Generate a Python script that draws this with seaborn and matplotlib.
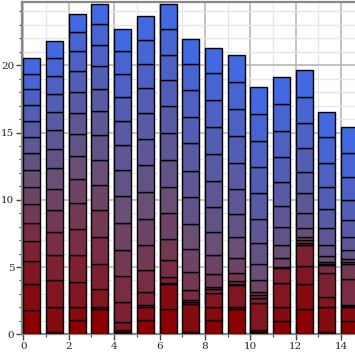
import numpy as np
import matplotlib
matplotlib.use("Agg")
import matplotlib.pyplot as plt
import seaborn as sns
from matplotlib.ticker import MultipleLocator

# posiÃ§Ãµes das barras (borda esquerda)
positions = list(range(15))

# alturas dos segmentos de cada barra, de baixo para cima
bar_00 = [1.84, 1.88, 1.71, 1.49, 1.39, 1.34, 1.31, 1.24, 1.29, 1.19, 1.19, 1.17, 1.17, 1.16, 1.14]
bar_01 = [0.17, 1.86, 1.98, 1.86, 1.73, 1.67, 1.56, 1.51, 1.41, 1.41, 1.38, 1.35, 1.34, 1.34, 1.23]
bar_02 = [1.04, 0.99, 1.86, 1.98, 1.98, 1.88, 1.84, 1.66, 1.66, 1.56, 1.53, 1.56, 1.49, 1.41, 1.39]
bar_03 = [1.86, 0.19, 1.30, 1.86, 2.03, 1.98, 1.91, 1.86, 1.81, 1.78, 1.69, 1.66, 1.56, 1.61, 1.49]
bar_04 = [0.15, 0.15, 0.62, 1.49, 1.91, 1.98, 1.98, 1.98, 1.93, 1.86, 1.81, 1.78, 1.74, 1.68, 1.61]
bar_05 = [1.04, 0.99, 0.18, 0.94, 1.61, 1.86, 1.98, 1.98, 2.04, 1.93, 1.90, 1.89, 1.76, 1.76, 1.78]
bar_06 = [1.91, 1.86, 0.06, 0.43, 1.24, 1.61, 1.88, 1.96, 1.99, 2.03, 1.99, 1.93, 1.91, 1.86, 1.88]
bar_07 = [0.17, 2.06, 0.19, 0.15, 0.76, 1.31, 1.67, 1.88, 1.99, 1.98, 2.04, 1.98, 1.99, 1.91, 1.88]
bar_08 = [1.04, 1.02, 1.01, 0.33, 0.12, 0.93, 1.41, 1.72, 1.88, 1.96, 1.99, 1.99, 2.04, 1.98, 1.89]
bar_09 = [1.88, 0.15, 1.61, 0.13, 0.17, 0.63, 1.13, 1.53, 1.74, 1.83, 1.96, 1.99, 2.02, 1.98, 2.04]
bar_10 = [0.15, 0.15, 1.99, 0.43, 0.19, 0.26, 0.86, 1.19, 1.56, 1.77, 1.93, 1.92, 1.97, 2.01, 1.99]
bar_11 = [0.99, 1.02, 1.82, 1.08, 0.06, 0.07, 0.63, 0.95, 1.34, 1.61, 1.75, 1.87, 1.95, 2.01, 1.98]
bar_12 = [1.91, 1.83, 1.35, 1.52, 0.20, 0.17, 0.28, 0.67, 1.09, 1.46, 1.56, 1.78, 1.88, 1.93, 1.99]
bar_13 = [0.17, 1.89, 0.69, 1.81, 0.57, 0.11, 0.11, 0.48, 0.84, 1.20, 1.46, 1.64, 1.78, 1.88, 1.93]
bar_14 = [1.02, 1.01, 0.05, 0.07, 1.99, 1.06, 0.19, 0.20, 0.65, 0.99, 1.29, 1.49, 1.72, 1.78, 1.88]

stacks = [bar_00, bar_01, bar_02, bar_03, bar_04, bar_05, bar_06, bar_07,
          bar_08, bar_09, bar_10, bar_11, bar_12, bar_13, bar_14]

sns.set_theme(style="whitegrid")
plt.rcParams["font.family"] = ["DejaVu Serif"]

n_layers = len(bar_00)
colors = sns.blend_palette(["darkred", "#694e76", "royalblue"], n_layers)

fig = plt.figure(figsize=(3.55, 3.55), dpi=100)
ax = fig.add_axes([22 / 355, 20.7 / 355, 333 / 355, 332.8 / 355])

bottoms = np.zeros(len(positions))
for k in range(n_layers):
    layer = np.array([s[k] for s in stacks])
    ax.bar(positions, layer, width=0.75, bottom=bottoms, align="edge",
           color=colors[k], edgecolor="black", linewidth=1.0, zorder=3)
    bottoms += layer

ax.set_xlim(-0.057, 14.61)
ax.set_ylim(0, 24.74)

ax.xaxis.set_major_locator(MultipleLocator(2))
ax.xaxis.set_minor_locator(MultipleLocator(1))
ax.yaxis.set_major_locator(MultipleLocator(5))
ax.yaxis.set_minor_locator(MultipleLocator(1))

ax.grid(which="major", color="#b8b8b8", linewidth=1.2)
ax.grid(which="minor", color="#e6e6e6", linewidth=0.9)
ax.set_axisbelow(True)

for side in ["left", "bottom", "top"]:
    ax.spines[side].set_color("#888888")
    ax.spines[side].set_linewidth(1.6)
ax.spines["right"].set_visible(False)

ax.tick_params(which="major", length=4, width=1, color="#444444",
               labelsize=7.5, pad=1.5, left=True, bottom=True)
ax.tick_params(which="minor", length=2.5, width=0.8, color="#444444",
               left=True, bottom=True)

fig.savefig("out.png", dpi=100)
